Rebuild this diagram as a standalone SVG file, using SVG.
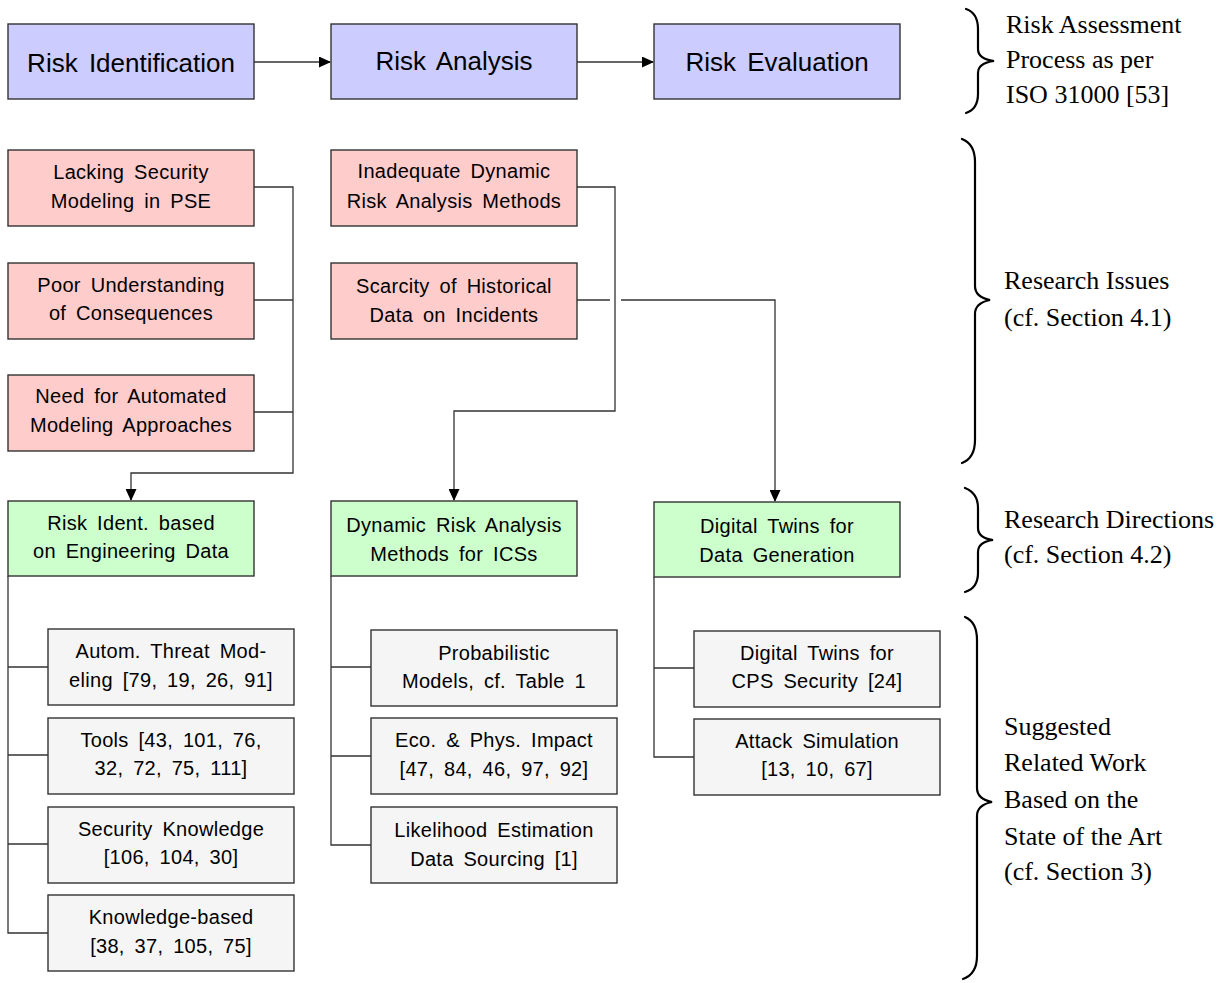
<svg xmlns="http://www.w3.org/2000/svg" width="1226" height="983" viewBox="0 0 1226 983">
<style>
.box{stroke:#333;stroke-width:1.4}
.blue{fill:#ccccff}
.red{fill:#ffcccc}
.green{fill:#ccffcc}
.gray{fill:#f5f5f5}
.t{font-family:"Liberation Sans",Arial,sans-serif;font-size:20px;text-anchor:middle;fill:#000;letter-spacing:0.3px;word-spacing:4px}
.tb{font-family:"Liberation Sans",Arial,sans-serif;font-size:26px;text-anchor:middle;fill:#000;word-spacing:4px}
.s{font-family:"Liberation Serif","Times New Roman",serif;font-size:26px;fill:#000}
.c{fill:none;stroke:#333;stroke-width:1.3}
.brace{fill:none;stroke:#000;stroke-width:2.2;stroke-linecap:round}
</style>
<defs>
<marker id="ah" markerWidth="12" markerHeight="11" refX="11" refY="5.5" orient="auto" markerUnits="userSpaceOnUse">
<path d="M0,0 L12,5.5 L0,11 z" fill="#000"/>
</marker>
</defs>

<g id="connectors">
<path class="c" d="M254,62 H330" marker-end="url(#ah)"/>
<path class="c" d="M577,62 H653" marker-end="url(#ah)"/>
<path class="c" d="M254,187 H293 V473 H131 V500" marker-end="url(#ah)"/>
<path class="c" d="M254,300 H293"/>
<path class="c" d="M254,412 H293"/>
<path class="c" d="M577,187 H615 V411 H454 V500" marker-end="url(#ah)"/>
<path class="c" d="M577,300 H610"/>
<path class="c" d="M621,300 H775 V501" marker-end="url(#ah)"/>
<path class="c" d="M8,576 V933 H48 M8,667 H48 M8,755 H48 M8,844 H48"/>
<path class="c" d="M331,576 V845 H371 M331,667 H371 M331,756 H371"/>
<path class="c" d="M654,577 V757 H694 M654,668 H694"/>
</g>

<g id="risk-identification">
<rect class="box blue" x="8" y="24" width="246" height="75"/>
<text class="tb" x="131" y="72">Risk Identification</text>
</g>
<g id="risk-analysis">
<rect class="box blue" x="331" y="24" width="246" height="75"/>
<text class="tb" x="454" y="70">Risk Analysis</text>
</g>
<g id="risk-evaluation">
<rect class="box blue" x="654" y="24" width="246" height="75"/>
<text class="tb" x="777" y="71">Risk Evaluation</text>
</g>

<g id="lacking-security">
<rect class="box red" x="8" y="150" width="246" height="76"/>
<text class="t" x="131" y="179">Lacking Security</text>
<text class="t" x="131" y="208">Modeling in PSE</text>
</g>
<g id="poor-understanding">
<rect class="box red" x="8" y="263" width="246" height="76"/>
<text class="t" x="131" y="292">Poor Understanding</text>
<text class="t" x="131" y="320">of Consequences</text>
</g>
<g id="need-automated">
<rect class="box red" x="8" y="375" width="246" height="76"/>
<text class="t" x="131" y="403">Need for Automated</text>
<text class="t" x="131" y="432">Modeling Approaches</text>
</g>
<g id="inadequate-dynamic">
<rect class="box red" x="331" y="150" width="246" height="76"/>
<text class="t" x="454" y="178">Inadequate Dynamic</text>
<text class="t" x="454" y="208">Risk Analysis Methods</text>
</g>
<g id="scarcity">
<rect class="box red" x="331" y="263" width="246" height="76"/>
<text class="t" x="454" y="293">Scarcity of Historical</text>
<text class="t" x="454" y="322">Data on Incidents</text>
</g>

<g id="risk-ident-engineering">
<rect class="box green" x="8" y="501" width="246" height="75"/>
<text class="t" x="131" y="530">Risk Ident. based</text>
<text class="t" x="131" y="558">on Engineering Data</text>
</g>
<g id="dynamic-risk-analysis">
<rect class="box green" x="331" y="501" width="246" height="75"/>
<text class="t" x="454" y="532">Dynamic Risk Analysis</text>
<text class="t" x="454" y="561">Methods for ICSs</text>
</g>
<g id="digital-twins-data">
<rect class="box green" x="654" y="502" width="246" height="75"/>
<text class="t" x="777" y="533">Digital Twins for</text>
<text class="t" x="777" y="562">Data Generation</text>
</g>

<g id="autom-threat">
<rect class="box gray" x="48" y="629" width="246" height="76"/>
<text class="t" x="171" y="658">Autom. Threat Mod-</text>
<text class="t" x="171" y="687">eling [79, 19, 26, 91]</text>
</g>
<g id="tools">
<rect class="box gray" x="48" y="718" width="246" height="76"/>
<text class="t" x="171" y="747">Tools [43, 101, 76,</text>
<text class="t" x="171" y="775">32, 72, 75, 111]</text>
</g>
<g id="security-knowledge">
<rect class="box gray" x="48" y="807" width="246" height="76"/>
<text class="t" x="171" y="836">Security Knowledge</text>
<text class="t" x="171" y="864">[106, 104, 30]</text>
</g>
<g id="knowledge-based">
<rect class="box gray" x="48" y="895" width="246" height="76"/>
<text class="t" x="171" y="924">Knowledge-based</text>
<text class="t" x="171" y="953">[38, 37, 105, 75]</text>
</g>

<g id="probabilistic">
<rect class="box gray" x="371" y="630" width="246" height="76"/>
<text class="t" x="494" y="660">Probabilistic</text>
<text class="t" x="494" y="688">Models, cf. Table 1</text>
</g>
<g id="eco-phys">
<rect class="box gray" x="371" y="718" width="246" height="76"/>
<text class="t" x="494" y="747">Eco. &amp; Phys. Impact</text>
<text class="t" x="494" y="776">[47, 84, 46, 97, 92]</text>
</g>
<g id="likelihood">
<rect class="box gray" x="371" y="807" width="246" height="76"/>
<text class="t" x="494" y="837">Likelihood Estimation</text>
<text class="t" x="494" y="866">Data Sourcing [1]</text>
</g>

<g id="dt-cps">
<rect class="box gray" x="694" y="631" width="246" height="76"/>
<text class="t" x="817" y="660">Digital Twins for</text>
<text class="t" x="817" y="688">CPS Security [24]</text>
</g>
<g id="attack-sim">
<rect class="box gray" x="694" y="719" width="246" height="76"/>
<text class="t" x="817" y="748">Attack Simulation</text>
<text class="t" x="817" y="776">[13, 10, 67]</text>
</g>

<g id="brace-assessment">
<path class="brace" d="M966,9 Q978,13 978,29 L978,49 Q978,59 994,61 Q978,63 978,73 L978,94 Q978,109 966,113"/>
<text class="s" x="1006" y="33">Risk Assessment</text>
<text class="s" x="1006" y="68">Process as per</text>
<text class="s" x="1006" y="103">ISO 31000 [53]</text>
</g>
<g id="brace-issues">
<path class="brace" d="M962,139 Q975,144 975,162 L975,286 Q975,297 990,300 Q975,303 975,314 L975,440 Q975,458 962,463"/>
<text class="s" x="1004" y="289">Research Issues</text>
<text class="s" x="1004" y="326">(cf. Section 4.1)</text>
</g>
<g id="brace-directions">
<path class="brace" d="M965,488 Q978,493 978,508 L978,528 Q978,538 993,540 Q978,542 978,552 L978,573 Q978,588 965,592"/>
<text class="s" x="1004" y="528">Research Directions</text>
<text class="s" x="1004" y="563">(cf. Section 4.2)</text>
</g>
<g id="brace-related">
<path class="brace" d="M965,617 Q977,622 977,640 L977,788 Q977,799 992,802 Q977,805 977,816 L977,956 Q977,974 963,979"/>
<text class="s" x="1004" y="735">Suggested</text>
<text class="s" x="1004" y="771">Related Work</text>
<text class="s" x="1004" y="808">Based on the</text>
<text class="s" x="1004" y="845">State of the Art</text>
<text class="s" x="1004" y="880">(cf. Section 3)</text>
</g>
</svg>
